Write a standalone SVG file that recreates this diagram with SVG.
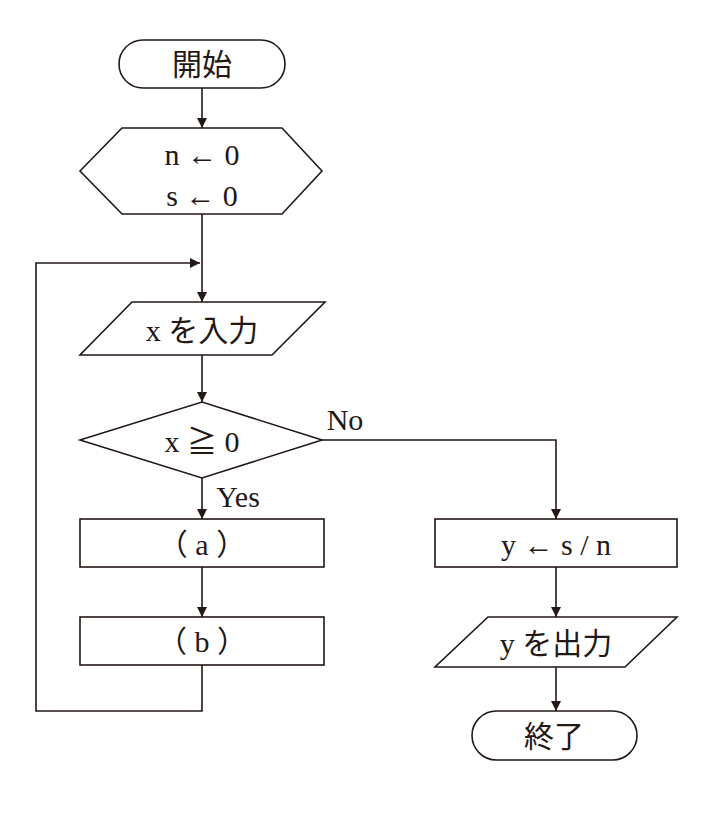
<svg xmlns="http://www.w3.org/2000/svg" width="714" height="830" viewBox="0 0 714 830">
<style>
.s{fill:#fff;stroke:#231815;stroke-width:1.6}
.l{fill:none;stroke:#231815;stroke-width:1.6}
text{font-family:"Liberation Serif","Noto Sans CJK JP",serif;font-size:30px;fill:#231815;text-anchor:middle;dominant-baseline:central}
</style>
<defs><marker id="a" markerWidth="12" markerHeight="12" refX="10" refY="5" orient="auto" markerUnits="userSpaceOnUse"><path d="M0,0L10,5L0,10z" fill="#231815"/></marker></defs>
<rect width="714" height="830" fill="#fff"/>
<g id="edges">
<path class="l" d="M202,88V128" marker-end="url(#a)"/>
<path class="l" d="M202,214V302" marker-end="url(#a)"/>
<path class="l" d="M202,355V402" marker-end="url(#a)"/>
<path class="l" d="M202,478V519" marker-end="url(#a)"/>
<path class="l" d="M202,567V617" marker-end="url(#a)"/>
<path class="l" d="M202,665V711H36V263H200" marker-end="url(#a)"/>
<path class="l" d="M322,440H556V519" marker-end="url(#a)"/>
<path class="l" d="M556,567V617" marker-end="url(#a)"/>
<path class="l" d="M556,667V711" marker-end="url(#a)"/>
<text x="345" y="419">No</text>
<text x="238" y="496">Yes</text>
</g>
<g id="start"><rect class="s" x="119" y="40" width="166" height="48" rx="24"/><text x="202" y="64">開始</text></g>
<g id="init"><path class="s" d="M80,171L122,128H282L322,171L282,214H122Z"/><text x="202" y="154">n ← 0</text><text x="202" y="195">s ← 0</text></g>
<g id="input"><path class="s" d="M132,302H325L272,355H80Z"/><text x="202" y="330">x を入力</text></g>
<g id="cond"><path class="s" d="M80,440L202,402L322,440L202,478Z"/><text x="202" y="441">x ≧ 0</text></g>
<g id="a1"><rect class="s" x="80" y="519" width="244" height="48"/><text x="202" y="544">（ a ）</text></g>
<g id="b1"><rect class="s" x="80" y="617" width="244" height="48"/><text x="202" y="641">（ b ）</text></g>
<g id="calc"><rect class="s" x="435" y="519" width="242" height="48"/><text x="556" y="544">y ← s / n</text></g>
<g id="output"><path class="s" d="M488,617H677L625,667H435Z"/><text x="556" y="643">y を出力</text></g>
<g id="end"><rect class="s" x="472" y="711" width="165" height="49" rx="24.5"/><text x="554" y="736">終了</text></g>
</svg>
